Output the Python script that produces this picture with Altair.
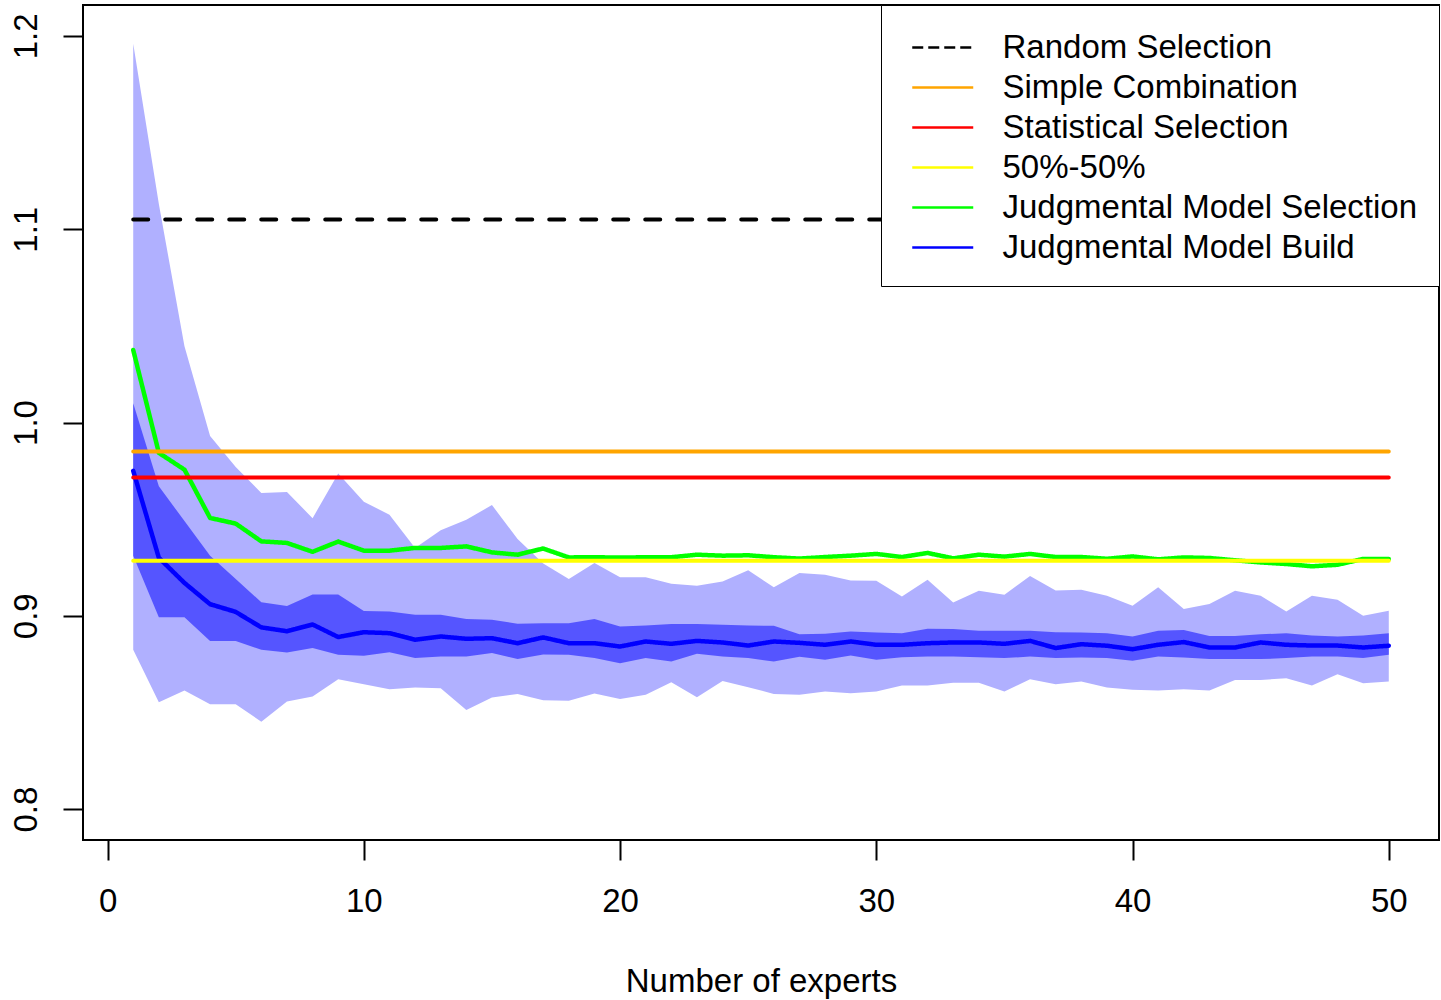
import altair as alt
import pandas as pd

# Number of experts in the pooled panel
experts = list(range(1, 51))

# Judgmental Model Build: mean and the two percentile bands
build_mean = [0.975, 0.930, 0.917, 0.906, 0.902, 0.894, 0.892, 0.8955, 0.889, 0.8915,
              0.891, 0.8876, 0.8893, 0.8881, 0.8884, 0.8858, 0.8888, 0.8858, 0.8858, 0.8841,
              0.8867, 0.8855, 0.8870, 0.8862, 0.8846, 0.8867, 0.8860, 0.8850, 0.8867, 0.8850,
              0.8850, 0.8858, 0.8862, 0.8862, 0.8855, 0.8870, 0.8833, 0.8853, 0.8845, 0.8827,
              0.8850, 0.8864, 0.8836, 0.8836, 0.8862, 0.8850, 0.8846, 0.8846, 0.8836, 0.8845]
build_inner_hi = [1.010, 0.967, 0.949, 0.931, 0.919, 0.907, 0.905, 0.911, 0.911, 0.9025,
                  0.9022, 0.9005, 0.9005, 0.8984, 0.8979, 0.8959, 0.8961, 0.8962, 0.8984, 0.8945,
                  0.8950, 0.8957, 0.8957, 0.8954, 0.8950, 0.8948, 0.8905, 0.8907, 0.8919, 0.8914,
                  0.8910, 0.8933, 0.8931, 0.8922, 0.8922, 0.8922, 0.8915, 0.8914, 0.8910, 0.8893,
                  0.8922, 0.8927, 0.8896, 0.8896, 0.8904, 0.8910, 0.8898, 0.8893, 0.8898, 0.8910]
build_inner_lo = [0.931, 0.8993, 0.8993, 0.8870, 0.8870, 0.8824, 0.8810, 0.8833, 0.8798, 0.8793,
                  0.8812, 0.8781, 0.8789, 0.8789, 0.8807, 0.8777, 0.8800, 0.8798, 0.8781, 0.8755,
                  0.8781, 0.8763, 0.8803, 0.8789, 0.8781, 0.8763, 0.8788, 0.8772, 0.8794, 0.8772,
                  0.8786, 0.8789, 0.8789, 0.8786, 0.8781, 0.8789, 0.8781, 0.8784, 0.8781, 0.8767,
                  0.8789, 0.8784, 0.8776, 0.8776, 0.8776, 0.8781, 0.8789, 0.8789, 0.8781, 0.8798]
build_outer_hi = [1.196, 1.113, 1.0395, 0.993, 0.977, 0.9635, 0.964, 0.9505, 0.9736, 0.959,
                  0.9523, 0.9351, 0.9442, 0.9497, 0.9573, 0.9397, 0.927, 0.9190, 0.9273, 0.9200,
                  0.9200, 0.9166, 0.9155, 0.9178, 0.9235, 0.9148, 0.9221, 0.9212, 0.9183, 0.9181,
                  0.9100, 0.9187, 0.9069, 0.9130, 0.9109, 0.9206, 0.9131, 0.9135, 0.9104, 0.9052,
                  0.9148, 0.9035, 0.9061, 0.9130, 0.9104, 0.9022, 0.9104, 0.9083, 0.9000, 0.9026]
build_outer_lo = [0.8824, 0.8553, 0.8613, 0.8542, 0.8542, 0.8452, 0.8556, 0.8582, 0.8672, 0.8646,
                  0.8620, 0.8629, 0.8625, 0.8513, 0.8577, 0.8596, 0.8563, 0.8561, 0.8598, 0.8570,
                  0.8591, 0.8656, 0.8579, 0.8663, 0.8630, 0.8596, 0.8592, 0.8608, 0.8599, 0.8608,
                  0.8639, 0.8639, 0.8654, 0.8654, 0.8608, 0.8672, 0.8646, 0.8660, 0.8629, 0.8617,
                  0.8613, 0.8620, 0.8613, 0.8668, 0.8668, 0.8677, 0.8639, 0.8698, 0.8651, 0.8660]

# Judgmental Model Selection: mean
selection_mean = [1.0375, 0.9843, 0.9756, 0.9506, 0.9477, 0.9385, 0.9377, 0.9331, 0.9384, 0.9337,
                  0.9337, 0.9351, 0.9351, 0.9359, 0.9328, 0.9316, 0.9348, 0.9302, 0.9303, 0.9301,
                  0.9303, 0.9303, 0.9316, 0.9311, 0.9313, 0.9303, 0.9296, 0.9304, 0.9311, 0.9320,
                  0.9304, 0.9325, 0.9297, 0.9316, 0.9306, 0.9320, 0.9304, 0.9304, 0.9295, 0.9307,
                  0.9292, 0.9302, 0.9299, 0.9287, 0.9276, 0.9268, 0.9256, 0.9264, 0.9294, 0.9294]

# Benchmarks that do not depend on the number of experts
benchmark_names = ["Random Selection", "Simple Combination", "Statistical Selection", "50%-50%"]
benchmark_values = [1.105, 0.985, 0.9715, 0.9285]

methods = ["Random Selection", "Simple Combination", "Statistical Selection", "50%-50%",
           "Judgmental Model Selection", "Judgmental Model Build"]
method_colors = ["#000000", "#FFA500", "#FF0000", "#FFFF00", "#00FF00", "#0000FF"]
# dash patterns used by the legend keys
method_dashes = [[11, 5], [1, 0], [1, 0], [1, 0], [1, 0], [1, 0]]

x_ticks = [0, 10, 20, 30, 40, 50]
y_ticks = [0.8, 0.9, 1.0, 1.1, 1.2]

FONT = "Liberation Sans"

bands = pd.DataFrame({
    "n": experts,
    "outer_lo": build_outer_lo, "outer_hi": build_outer_hi,
    "inner_lo": build_inner_lo, "inner_hi": build_inner_hi,
})
build_df = pd.DataFrame({"n": experts, "value": build_mean, "method": "Judgmental Model Build"})
selection_df = pd.DataFrame({"n": experts, "value": selection_mean, "method": "Judgmental Model Selection"})
bench = pd.DataFrame({"method": benchmark_names, "value": benchmark_values,
                      "start": experts[0], "end": experts[-1]})

x_scale = alt.Scale(domain=[-0.96, 51.96], nice=False, zero=False)
y_scale = alt.Scale(domain=[0.784, 1.216], nice=False, zero=False)
color_scale = alt.Scale(domain=methods, range=method_colors)
dash_scale = alt.Scale(domain=methods, range=method_dashes)

x_axis = alt.Axis(values=x_ticks, title="Number of experts", grid=False, domain=False,
                  tickSize=20, tickWidth=2, tickColor="black",
                  labelFontSize=33, labelFont=FONT, labelColor="black",
                  labelBaseline="alphabetic", labelPadding=51, labelFlush=False,
                  titleFontSize=33, titleFont=FONT, titleFontWeight="normal", titleColor="black",
                  titleBaseline="alphabetic", titleY=151)
y_axis = alt.Axis(values=y_ticks, format=".1f", title=None, grid=False, domain=False,
                  tickSize=20, tickWidth=2, tickColor="black",
                  labelFontSize=33, labelFont=FONT, labelColor="black",
                  labelAngle=270, labelAlign="center", labelBaseline="alphabetic",
                  labelPadding=27, labelFlush=False)

legend_spec = alt.Legend(
    title=" ", titleFontSize=1, titlePadding=4, titleFont=FONT,
    orient="none", legendX=798, legendY=0,
    labelFontSize=33, labelFont=FONT, labelColor="black", labelLimit=700,
    symbolType="M-1,0H3", symbolSize=930, symbolStrokeWidth=2.5, symbolOffset=9,
    labelOffset=58.5, padding=21, rowPadding=6,
    fillColor="white", strokeColor="black",
)
color_enc = alt.Color("method:N", scale=color_scale, legend=legend_spec)
dash_enc = alt.StrokeDash("method:N", scale=dash_scale, legend=legend_spec)


def xy(y_field):
    return dict(
        x=alt.X("n:Q", scale=x_scale, axis=x_axis),
        y=alt.Y(f"{y_field}:Q", scale=y_scale, axis=y_axis),
    )


outer_band = alt.Chart(bands).mark_area(color="#B0B0FF", opacity=1).encode(
    **xy("outer_hi"), y2="outer_lo:Q",
)
inner_band = alt.Chart(bands).mark_area(color="#5555FF", opacity=1).encode(
    **xy("inner_hi"), y2="inner_lo:Q",
)
build_line = alt.Chart(build_df).mark_line(strokeWidth=4.5, strokeCap="round", strokeJoin="round").encode(
    **xy("value"), color=color_enc, strokeDash=dash_enc,
)
selection_line = alt.Chart(selection_df).mark_line(strokeWidth=4.5, strokeCap="round", strokeJoin="round").encode(
    **xy("value"), color=color_enc, strokeDash=dash_enc,
)
solid_bench = alt.Chart(bench).transform_filter(
    alt.datum.method != "Random Selection"
).mark_rule(strokeWidth=4, strokeCap="round").encode(
    x=alt.X("start:Q", scale=x_scale, axis=x_axis),
    x2="end:Q",
    y=alt.Y("value:Q", scale=y_scale, axis=y_axis),
    color=color_enc,
    strokeDash=dash_enc,
)
# the random-selection benchmark keeps its own, longer dash in the plot
random_bench = alt.Chart(bench).transform_filter(
    alt.datum.method == "Random Selection"
).mark_rule(strokeWidth=4, strokeCap="round", strokeDash=[15, 17]).encode(
    x=alt.X("start:Q", scale=x_scale, axis=x_axis),
    x2="end:Q",
    y=alt.Y("value:Q", scale=y_scale, axis=y_axis),
    color=color_enc,
)

chart = alt.layer(
    outer_band, inner_band, build_line, selection_line, random_bench, solid_bench
).properties(
    width=1356, height=835,
    autosize=alt.AutoSizeParams(type="none"),
    padding={"left": 83, "top": 5, "right": 2, "bottom": 160},
    background="white",
).configure_view(
    stroke="black", strokeWidth=2,
)

chart.save("out.html", embed_options={"renderer": "svg", "actions": False})
